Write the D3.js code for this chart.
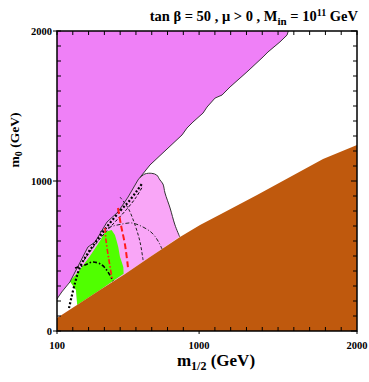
<!DOCTYPE html>
<html>
<head>
<meta charset="utf-8">
<script src="https://cdn.jsdelivr.net/npm/d3@7/dist/d3.min.js"></script>
<style>
  body { margin: 0; background: #fff; }
  text { font-family: "Liberation Serif", "DejaVu Serif", serif; font-weight: bold; }
</style>
</head>
<body>
<div id="chart"></div>
<script>
const width = 369;
const height = 382;

// tick values
const xTickLabels = [100, 1000, 2000];
const yTickLabels = [0, 1000, 2000];

// region boundaries, [m1/2, m0] in GeV
const magentaEdge = [[100,213],[104,220],[130,260],[182,327],[296,560],[341,593],[417,727],[486,793],
  [550,893],[613,1007],[689,1107],[892,1307],[923,1353],[961,1393],[1025,1453],[1050,1493],
  [1101,1553],[1145,1573],[1196,1627],[1303,1727],[1405,1827],[1436,1860],[1512,1927],[1557,1973],[1565,2000]];
const brownEdge = [[100,87],[227,173],[372,273],[531,380],[689,493],[879,627],[1006,707],
  [1151,787],[1367,907],[1576,1027],[1785,1147],[2000,1240]];
const pinkCurve = [[626,1022],[657,1047],[700,1051],[731,1040],[752,1007],[771,980],[784,920],
  [816,820],[847,707],[877,628]];
const whiteRegion = [[100,87],[100,213],[104,220],[130,260],[182,330],[220,273],[227,187],[227,173]];
const greenRegion = [[182,330],[246,410],[309,500],[372,600],[404,660],[446,673],[467,640],[478,600],
  [488,560],[499,493],[510,460],[520,427],[522,381],[372,273],[227,173],[227,187],[220,273]];

// contours
const dotThick = [[176,153],[214,320],[246,427],[296,520],[350,600],[420,700],[500,800],[560,870],[610,940],[640,985]];
const dashNearEdge = [[270,470],[330,560],[400,650],[470,730],[540,810],[600,890],[640,960]];
const arc1 = [[214,420],[277,440],[328,460],[385,440],[423,393],[455,333]];
const arc2 = [[372,660],[436,693],[512,713],[575,720],[645,693],[702,653],[740,600],[765,547]];
const redDashDot = [[404,687],[410,607],[429,473],[448,353]];
const redDashed = [[486,820],[505,707],[531,573],[550,420]];
const blackDashed = [[499,893],[550,820],[594,707],[626,593],[645,473]];

const cl_magenta = "#ef80f7";
const cl_pink = "#f9a6f7";
const cl_green = "#50ff00";
const cl_brown = "#bf590d";

const x = d3.scaleLinear().domain([100, 2000]).range([57, 357]);
const y = d3.scaleLinear().domain([0, 2000]).range([331, 31]);

const svg = d3.select("#chart").append("svg")
  .attr("width", width).attr("height", height);

svg.append("clipPath").attr("id", "plotclip")
  .append("rect").attr("x", 57).attr("y", 31).attr("width", 300).attr("height", 300);

const g = svg.append("g").attr("clip-path", "url(#plotclip)");
const line = d3.line().x(d => x(d[0])).y(d => y(d[1]));
const curve = d3.line().x(d => x(d[0])).y(d => y(d[1])).curve(d3.curveCatmullRom);

// magenta region
g.append("path")
  .attr("d", line([[100,2000]].concat(magentaEdge.slice().reverse())))
  .attr("fill", cl_magenta);

// pink region
const pinkPoly = magentaEdge.filter(d => d[0] < 626)
  .concat(pinkCurve)
  .concat(brownEdge.filter(d => d[0] < 877).reverse());
g.append("path").attr("d", line(pinkPoly)).attr("fill", cl_pink);

g.append("path").attr("d", line(whiteRegion)).attr("fill", "#fff");
g.append("path").attr("d", line(greenRegion)).attr("fill", cl_green);

// brown region
g.append("path")
  .attr("d", line(brownEdge.concat([[2000,0],[100,0]])))
  .attr("fill", cl_brown);

// boundary lines
g.append("path").attr("d", line(magentaEdge)).attr("fill", "none")
  .attr("stroke", "#222").attr("stroke-width", 0.9);
g.append("path").attr("d", curve(pinkCurve)).attr("fill", "none")
  .attr("stroke", "#333").attr("stroke-width", 1);

function contour(data, color, w, dash) {
  g.append("path").attr("d", curve(data)).attr("fill", "none")
    .attr("stroke", color).attr("stroke-width", w).attr("stroke-dasharray", dash);
}
contour(dotThick, "#000", 2.2, "2,2");
contour(dashNearEdge, "#000", 1, "3,2");
contour(arc1, "#000", 1.6, "4,2,1.5,2");
contour(arc2, "#222", 1, "4,2,1,2");
contour(blackDashed, "#222", 1, "3,2");
contour(redDashDot, "#ff1a1a", 1.6, "5,2,1.5,2");
contour(redDashed, "#ff1a1a", 2, "6,3");

// frame
svg.append("rect").attr("x", 57).attr("y", 31).attr("width", 300).attr("height", 300)
  .attr("fill", "none").attr("stroke", "#000").attr("stroke-width", 1.5);

// ticks
const xTicks = d3.range(100, 2001, 100);
const yTicks = d3.range(0, 2001, 100);
const tk = svg.append("g").attr("stroke", "#000").attr("stroke-width", 1);
xTicks.forEach(v => {
  const major = xTickLabels.includes(v);
  tk.append("line").attr("x1", x(v)).attr("x2", x(v)).attr("y1", 331).attr("y2", major ? 334 : 327);
  tk.append("line").attr("x1", x(v)).attr("x2", x(v)).attr("y1", 31).attr("y2", 35);
});
yTicks.forEach(v => {
  const major = yTickLabels.includes(v);
  tk.append("line").attr("y1", y(v)).attr("y2", y(v)).attr("x1", major ? 53 : 57).attr("x2", 61);
  tk.append("line").attr("y1", y(v)).attr("y2", y(v)).attr("x1", 357).attr("x2", v % 1000 == 0 ? 351 : 353);
});

svg.selectAll(".xl").data(xTickLabels).enter().append("text")
  .attr("x", d => x(d)).attr("y", 349).attr("text-anchor", "middle")
  .attr("font-size", 10.5).text(d => d);
svg.selectAll(".yl").data(yTickLabels).enter().append("text")
  .attr("x", 52).attr("y", d => y(d) + 3.5).attr("text-anchor", "end")
  .attr("font-size", 10.5).text(d => d);

// title
const title = svg.append("text").attr("x", 358).attr("y", 21).attr("text-anchor", "end")
  .attr("font-size", 14.5);
title.append("tspan").text("tan \u03b2 = 50 ,  \u03bc > 0 , M");
title.append("tspan").attr("font-size", 11).attr("dy", 4).text("in");
title.append("tspan").attr("dy", -4).text(" = 10");
title.append("tspan").attr("font-size", 10).attr("dy", -5).text("11");
title.append("tspan").attr("dy", 5).text(" GeV");

// axis labels
const xl = svg.append("text").attr("x", 216).attr("y", 366).attr("text-anchor", "middle")
  .attr("font-size", 17);
xl.append("tspan").text("m");
xl.append("tspan").attr("font-size", 12).attr("dy", 4).text("1/2");
xl.append("tspan").attr("dy", -4).text(" (GeV)");

const yl = svg.append("text").attr("transform", "translate(19,140) rotate(-90)")
  .attr("text-anchor", "middle").attr("font-size", 13.5);
yl.append("tspan").text("m");
yl.append("tspan").attr("font-size", 10).attr("dy", 3).text("0");
yl.append("tspan").attr("dy", -3).text(" (GeV)");
</script>
</body>
</html>
